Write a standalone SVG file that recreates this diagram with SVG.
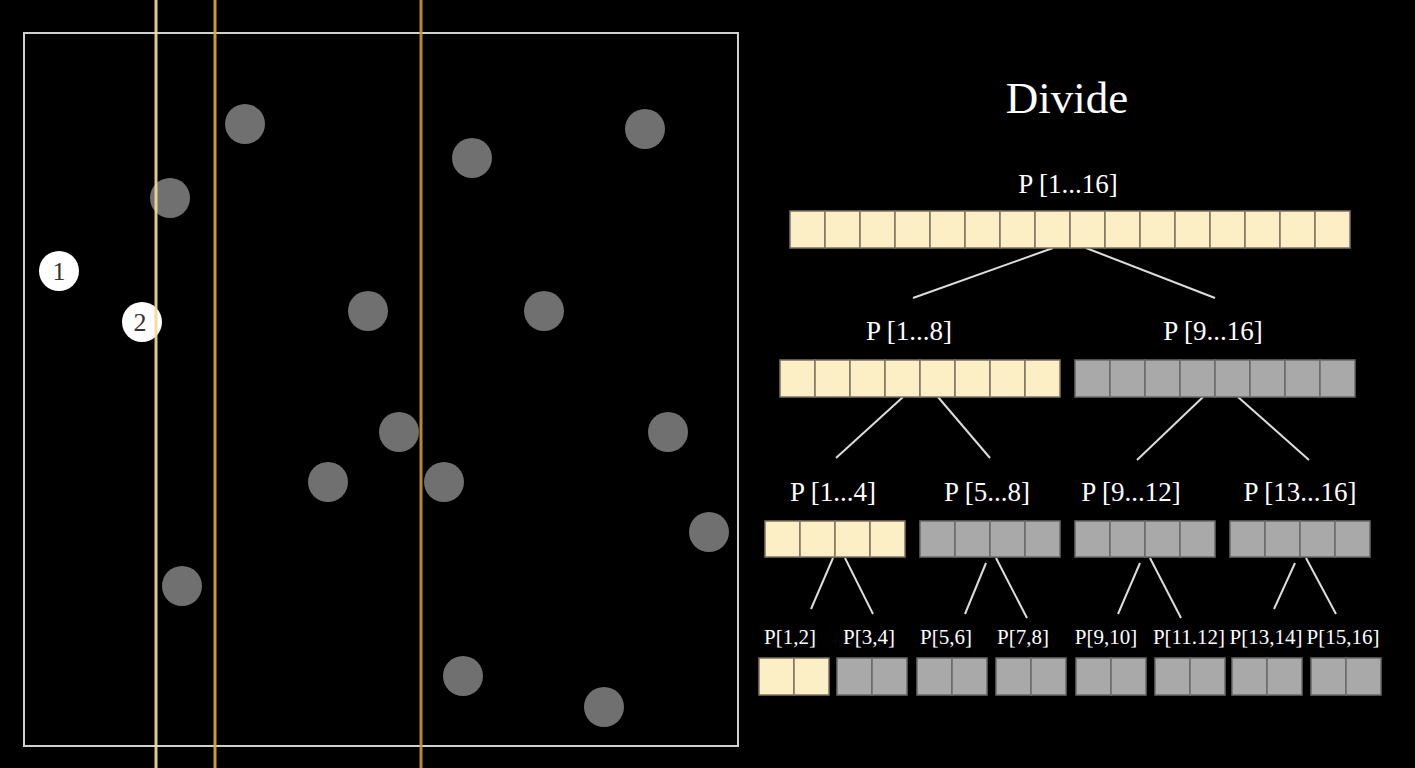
<svg xmlns="http://www.w3.org/2000/svg" width="1415" height="768" viewBox="0 0 1415 768">
<defs>
<style>
.pt{fill:#707070}
.wp{fill:#ffffff}
.num{font-family:"Liberation Serif","Times New Roman",serif;font-size:26px;fill:#333;text-anchor:middle}
.lbl{font-family:"Liberation Serif","Times New Roman",serif;font-size:27px;fill:#ffffff;text-anchor:middle}
.lbs{font-family:"Liberation Serif","Times New Roman",serif;font-size:21px;fill:#ffffff;text-anchor:middle}
.y{fill:#fcefc6;stroke:#7e7460;stroke-width:1.5}
.g{fill:#a9a9a9;stroke:#6a6a6a;stroke-width:1.5}
.edge{stroke:#dddddd;stroke-width:2;fill:none}
</style>
</defs>
<rect x="0" y="0" width="1415" height="768" fill="#000"/>

<g id="plane">
<rect x="24" y="33" width="714" height="713" fill="none" stroke="#d0d0d0" stroke-width="2"/>
<g id="points">
<circle class="pt" cx="245" cy="124" r="20"/>
<circle class="pt" cx="472" cy="158" r="20"/>
<circle class="pt" cx="645" cy="129" r="20"/>
<circle class="pt" cx="170" cy="198" r="20"/>
<circle class="pt" cx="368" cy="311" r="20"/>
<circle class="pt" cx="544" cy="311" r="20"/>
<circle class="pt" cx="399" cy="432" r="20"/>
<circle class="pt" cx="668" cy="432" r="20"/>
<circle class="pt" cx="328" cy="482" r="20"/>
<circle class="pt" cx="444" cy="482" r="20"/>
<circle class="pt" cx="709" cy="532" r="20"/>
<circle class="pt" cx="182" cy="586" r="20"/>
<circle class="pt" cx="463" cy="676" r="20"/>
<circle class="pt" cx="604" cy="707" r="20"/>
</g>
<g id="p1"><circle class="wp" cx="59" cy="271" r="20"/><text class="num" x="59" y="280">1</text></g>
<g id="p2"><circle class="wp" cx="142" cy="322" r="20"/><text class="num" x="140" y="331">2</text></g>
<g id="splits" opacity="0.92">
<line x1="156" y1="0" x2="156" y2="768" stroke="#f0dc9c" stroke-width="3"/>
<line x1="215" y1="0" x2="215" y2="768" stroke="#dcaa34" stroke-width="3"/>
<line x1="421" y1="0" x2="421" y2="768" stroke="#c4962e" stroke-width="3"/>
</g>
</g>

<text id="title" x="1067" y="113" font-family="Liberation Serif, Times New Roman, serif" font-size="45" fill="#fff" text-anchor="middle">Divide</text>

<g id="connectors">
<line class="edge" x1="1053" y1="248" x2="913" y2="298"/>
<line class="edge" x1="1086" y1="248" x2="1215" y2="298"/>
<line class="edge" x1="903" y1="397" x2="836" y2="458"/>
<line class="edge" x1="938" y1="397" x2="990" y2="458"/>
<line class="edge" x1="1203" y1="397" x2="1137" y2="460"/>
<line class="edge" x1="1238" y1="397" x2="1309" y2="460"/>
<line class="edge" x1="833" y1="558" x2="811" y2="609"/>
<line class="edge" x1="845" y1="558" x2="873" y2="614"/>
<line class="edge" x1="986" y1="563" x2="965" y2="614"/>
<line class="edge" x1="996" y1="558" x2="1027" y2="618"/>
<line class="edge" x1="1140" y1="563" x2="1118" y2="614"/>
<line class="edge" x1="1150" y1="558" x2="1181" y2="618"/>
<line class="edge" x1="1295" y1="563" x2="1274" y2="609"/>
<line class="edge" x1="1306" y1="558" x2="1336" y2="614"/>
</g>

<g id="n1-16">
<text class="lbl" x="1068" y="193">P [1...16]</text>
<rect class="y" x="790" y="211" width="35" height="37"/><rect class="y" x="825" y="211" width="35" height="37"/><rect class="y" x="860" y="211" width="35" height="37"/><rect class="y" x="895" y="211" width="35" height="37"/><rect class="y" x="930" y="211" width="35" height="37"/><rect class="y" x="965" y="211" width="35" height="37"/><rect class="y" x="1000" y="211" width="35" height="37"/><rect class="y" x="1035" y="211" width="35" height="37"/><rect class="y" x="1070" y="211" width="35" height="37"/><rect class="y" x="1105" y="211" width="35" height="37"/><rect class="y" x="1140" y="211" width="35" height="37"/><rect class="y" x="1175" y="211" width="35" height="37"/><rect class="y" x="1210" y="211" width="35" height="37"/><rect class="y" x="1245" y="211" width="35" height="37"/><rect class="y" x="1280" y="211" width="35" height="37"/><rect class="y" x="1315" y="211" width="35" height="37"/>
</g>

<g id="n1-8">
<text class="lbl" x="909" y="340">P [1...8]</text>
<rect class="y" x="780" y="360" width="35" height="37"/><rect class="y" x="815" y="360" width="35" height="37"/><rect class="y" x="850" y="360" width="35" height="37"/><rect class="y" x="885" y="360" width="35" height="37"/><rect class="y" x="920" y="360" width="35" height="37"/><rect class="y" x="955" y="360" width="35" height="37"/><rect class="y" x="990" y="360" width="35" height="37"/><rect class="y" x="1025" y="360" width="35" height="37"/>
</g>
<g id="n9-16">
<text class="lbl" x="1213" y="340">P [9...16]</text>
<rect class="g" x="1075" y="360" width="35" height="37"/><rect class="g" x="1110" y="360" width="35" height="37"/><rect class="g" x="1145" y="360" width="35" height="37"/><rect class="g" x="1180" y="360" width="35" height="37"/><rect class="g" x="1215" y="360" width="35" height="37"/><rect class="g" x="1250" y="360" width="35" height="37"/><rect class="g" x="1285" y="360" width="35" height="37"/><rect class="g" x="1320" y="360" width="35" height="37"/>
</g>

<g id="n1-4">
<text class="lbl" x="833" y="501">P [1...4]</text>
<rect class="y" x="765" y="521" width="35" height="36"/><rect class="y" x="800" y="521" width="35" height="36"/><rect class="y" x="835" y="521" width="35" height="36"/><rect class="y" x="870" y="521" width="35" height="36"/>
</g>
<g id="n5-8">
<text class="lbl" x="987" y="501">P [5...8]</text>
<rect class="g" x="920" y="521" width="35" height="36"/><rect class="g" x="955" y="521" width="35" height="36"/><rect class="g" x="990" y="521" width="35" height="36"/><rect class="g" x="1025" y="521" width="35" height="36"/>
</g>
<g id="n9-12">
<text class="lbl" x="1131" y="501">P [9...12]</text>
<rect class="g" x="1075" y="521" width="35" height="36"/><rect class="g" x="1110" y="521" width="35" height="36"/><rect class="g" x="1145" y="521" width="35" height="36"/><rect class="g" x="1180" y="521" width="35" height="36"/>
</g>
<g id="n13-16">
<text class="lbl" x="1300" y="501">P [13...16]</text>
<rect class="g" x="1230" y="521" width="35" height="36"/><rect class="g" x="1265" y="521" width="35" height="36"/><rect class="g" x="1300" y="521" width="35" height="36"/><rect class="g" x="1335" y="521" width="35" height="36"/>
</g>

<g id="n1-2"><text class="lbs" x="790" y="644">P[1,2]</text><rect class="y" x="759" y="658" width="35" height="37"/><rect class="y" x="794" y="658" width="35" height="37"/></g>
<g id="n3-4"><text class="lbs" x="869" y="644">P[3,4]</text><rect class="g" x="837" y="658" width="35" height="37"/><rect class="g" x="872" y="658" width="35" height="37"/></g>
<g id="n5-6"><text class="lbs" x="946" y="644">P[5,6]</text><rect class="g" x="917" y="658" width="35" height="37"/><rect class="g" x="952" y="658" width="35" height="37"/></g>
<g id="n7-8"><text class="lbs" x="1023" y="644">P[7,8]</text><rect class="g" x="996" y="658" width="35" height="37"/><rect class="g" x="1031" y="658" width="35" height="37"/></g>
<g id="n9-10"><text class="lbs" x="1106" y="644">P[9,10]</text><rect class="g" x="1076" y="658" width="35" height="37"/><rect class="g" x="1111" y="658" width="35" height="37"/></g>
<g id="n11-12"><text class="lbs" x="1189" y="644">P[11.12]</text><rect class="g" x="1155" y="658" width="35" height="37"/><rect class="g" x="1190" y="658" width="35" height="37"/></g>
<g id="n13-14"><text class="lbs" x="1266" y="644">P[13,14]</text><rect class="g" x="1232" y="658" width="35" height="37"/><rect class="g" x="1267" y="658" width="35" height="37"/></g>
<g id="n15-16"><text class="lbs" x="1343" y="644">P[15,16]</text><rect class="g" x="1311" y="658" width="35" height="37"/><rect class="g" x="1346" y="658" width="35" height="37"/></g>
</svg>
